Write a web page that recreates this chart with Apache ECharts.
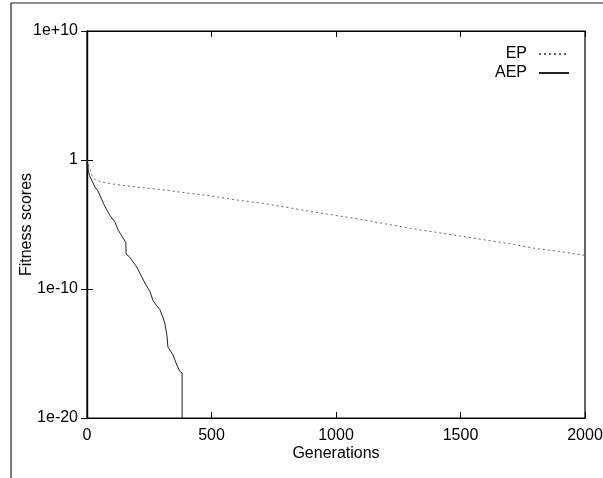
<!DOCTYPE html>
<html>
<head>
<meta charset="utf-8">
<script src="https://cdn.jsdelivr.net/npm/echarts@6/dist/echarts.min.js"></script>
<style>
  html, body { margin: 0; padding: 0; background: #fff; }
  #chart { width: 603px; height: 478px; }
</style>
</head>
<body>
<div id="chart"></div>
<script>
  // values (generation, fitness)
  var epGen = [0, 10, 20, 30, 50, 100, 200, 300, 400, 500, 600, 700, 800, 900, 1000,
    1100, 1200, 1300, 1400, 1500, 1600, 1700, 1800, 1900, 2000];
  var epFit = [1, 0.25, 0.063, 0.032, 0.022, 0.014, 0.008, 0.005, 0.0028, 0.0016, 8e-4,
    4.5e-4, 2.2e-4, 1e-4, 5e-5, 2.5e-5, 1.1e-5, 5e-6, 2.5e-6, 1.26e-6, 6.3e-7, 3.2e-7,
    1.4e-7, 8e-8, 4e-8];

  var aepGen = [0, 3, 5, 10, 20, 32, 44, 60, 72, 92, 112, 124, 140, 156, 157, 170, 185,
    200, 213, 237, 253, 265, 280, 293, 305, 313, 321, 325, 345, 361, 373, 382, 382];
  var aepFit = [1, 0.5, 0.16, 0.063, 0.025, 0.008, 0.004, 8e-4, 2.5e-4, 5e-5, 1.6e-5, 4e-6,
    1.26e-6, 4e-7, 5e-8, 3.2e-8, 1.26e-8, 5e-9, 1.6e-9, 2e-10, 6.3e-11, 1.26e-11, 5e-12,
    2.5e-12, 6.3e-13, 2e-13, 2.5e-14, 3.2e-15, 8e-16, 1.26e-16, 4e-17, 3.2e-17, 1e-20];

  var xTicks = [0, 500, 1000, 1500, 2000];

  function pairs(xs, ys) {
    return xs.map(function (x, i) { return [x, ys[i]]; });
  }

  function logLabel(v) {
    var e = Math.round(Math.log10(v));
    if (e === 0) return '1';
    return '1e' + (e > 0 ? '+' : '-') + Math.abs(e);
  }

  var chart = echarts.init(document.getElementById('chart'));
  var font = 'Liberation Sans, Arial, sans-serif';
  var fs = 16;

  chart.setOption({
    animation: false,
    backgroundColor: '#fff',
    textStyle: {fontFamily: font},
    grid: {
      left: 87,
      right: 18,
      top: 31,
      bottom: 60,
      outerBoundsMode: 'none',
      containLabel: false,
      show: true,
      borderColor: '#000',
      borderWidth: 1.2
    },
    legend: {
      orient: 'vertical',
      right: 28,
      top: 41,
      align: 'right',
      itemWidth: 30,
      itemHeight: 14,
      itemGap: 3,
      itemStyle: {opacity: 0},
      textStyle: {fontSize: fs, color: '#000', fontFamily: font, padding: [0, 7, 0, 0]},
      data: ['EP', 'AEP']
    },
    xAxis: [{
      type: 'value',
      min: xTicks[0],
      max: xTicks[xTicks.length - 1],
      interval: 500,
      name: 'Generations',
      nameLocation: 'middle',
      nameGap: 28,
      nameMoveOverlap: false,
      nameTextStyle: {fontSize: fs, color: '#000'},
      axisLine: {lineStyle: {color: '#000', width: 1.2}},
      axisTick: {inside: true, length: 6, lineStyle: {color: '#000'}},
      axisLabel: {fontSize: fs, color: '#000', margin: 10, formatter: function (v) { return String(v); }},
      splitLine: {show: false}
    }, {
      type: 'value',
      position: 'top',
      min: xTicks[0],
      max: xTicks[xTicks.length - 1],
      interval: 500,
      axisLine: {lineStyle: {color: '#000', width: 1.2}},
      axisTick: {inside: true, length: 6, lineStyle: {color: '#000'}},
      axisLabel: {show: false},
      splitLine: {show: false}
    }],
    yAxis: [{
      type: 'log',
      logBase: 10,
      min: 1e-20,
      max: 1e10,
      interval: 10,
      name: 'Fitness scores',
      nameLocation: 'middle',
      nameGap: 52,
      nameMoveOverlap: false,
      nameTextStyle: {fontSize: fs, color: '#000'},
      axisLine: {lineStyle: {color: '#000', width: 1.2}},
      axisTick: {inside: true, length: 6, lineStyle: {color: '#000'}},
      axisLabel: {fontSize: fs, color: '#000', margin: 9, formatter: logLabel},
      splitLine: {show: false}
    }, {
      type: 'log',
      logBase: 10,
      position: 'right',
      min: 1e-20,
      max: 1e10,
      interval: 10,
      axisLine: {lineStyle: {color: '#000', width: 1.2}},
      axisTick: {inside: true, length: 6, lineStyle: {color: '#000'}},
      axisLabel: {show: false},
      splitLine: {show: false}
    }],
    graphic: [{
      type: 'polyline',
      shape: {points: [[11, 478], [11, 3], [603, 3]]},
      style: {stroke: '#222', lineWidth: 1.2, fill: null},
      silent: true
    }],
    series: [
      {
        name: 'EP',
        type: 'line',
        data: pairs(epGen, epFit),
        symbol: 'none',
        showSymbol: false,
        lineStyle: {color: '#666', width: 1, type: [2, 3]},
        itemStyle: {color: '#666'}
      },
      {
        name: 'AEP',
        type: 'line',
        data: pairs(aepGen, aepFit),
        symbol: 'none',
        showSymbol: false,
        lineStyle: {color: '#222', width: 1},
        itemStyle: {color: '#222'}
      }
    ]
  });
</script>
</body>
</html>
